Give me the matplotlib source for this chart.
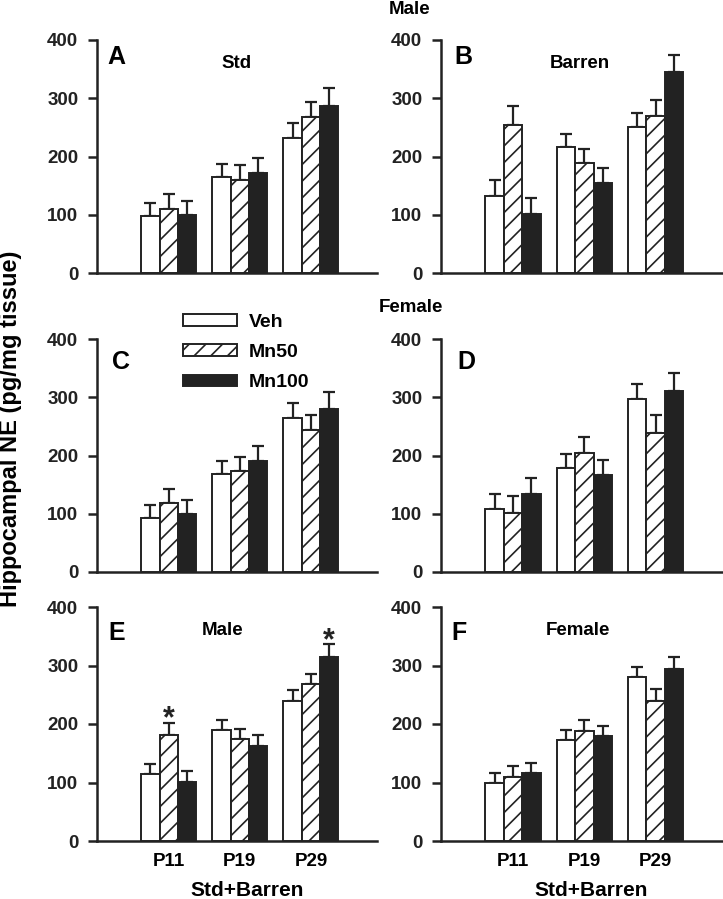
import matplotlib
matplotlib.use("Agg")
import matplotlib.pyplot as plt
import numpy as np

plt.rcParams['font.family'] = ['Liberation Sans', 'DejaVu Sans']
plt.rcParams['font.weight'] = 'bold'
plt.rcParams['hatch.linewidth'] = 1.2

ages = ["P11", "P19", "P29"]
groups = ["Veh", "Mn50", "Mn100"]

# means per treatment (rows: Veh, Mn50, Mn100), columns: P11, P19, P29
a_mean = [[97, 165, 232], [110, 160, 268], [100, 172, 287]]
a_err = [[24, 22, 25], [26, 25, 26], [23, 26, 30]]
b_mean = [[133, 217, 250], [254, 189, 270], [102, 155, 345]]
b_err = [[26, 21, 25], [33, 24, 27], [27, 25, 29]]
c_mean = [[93, 168, 265], [118, 174, 243], [99, 191, 279]]
c_err = [[22, 23, 25], [25, 24, 27], [25, 25, 30]]
d_mean = [[108, 179, 297], [101, 205, 239], [134, 166, 311]]
d_err = [[26, 23, 26], [30, 26, 30], [27, 27, 30]]
e_mean = [[115, 189, 239], [182, 174, 268], [101, 163, 314]]
e_err = [[17, 17, 19], [20, 17, 18], [18, 18, 22]]
f_mean = [[100, 173, 280], [109, 188, 239], [116, 179, 294]]
f_err = [[17, 16, 17], [20, 18, 21], [18, 17, 21]]

# significance marks: (panel, group index, age index)
stars = [("E", 1, 0), ("E", 2, 2)]

fig = plt.figure(figsize=(7.23, 8.99), dpi=100)

W, H = 723, 899
def px_axes(left, right, top, bottom):
    return fig.add_axes([left / W, 1 - bottom / H, (right - left) / W, (bottom - top) / H])

axA = px_axes(97, 377, 40, 273)
axB = px_axes(441, 722, 40, 273)
axC = px_axes(97, 377, 339, 572)
axD = px_axes(441, 722, 339, 572)
axE = px_axes(97, 377, 607, 841)
axF = px_axes(441, 722, 607, 841)

panels = [
    ("A", axA, a_mean, a_err, "Std", 0.50, (0.036, 0.927)),
    ("B", axB, b_mean, b_err, "Barren", 0.495, (0.046, 0.927)),
    ("C", axC, c_mean, c_err, None, None, (0.054, 0.90)),
    ("D", axD, d_mean, d_err, None, None, (0.057, 0.90)),
    ("E", axE, e_mean, e_err, "Male", 0.45, (0.04, 0.89)),
    ("F", axF, f_mean, f_err, "Female", 0.488, (0.036, 0.89)),
]

x = np.arange(1, len(ages) + 1)
w = 0.258
faces = ["white", "white", "#222222"]
hatches = [None, "//", None]

for name, ax, means, errs, title, tx, (lx, ly) in panels:
    for i in range(3):
        pos = x + (i - 1) * w
        ax.bar(pos, means[i], w, color=faces[i], edgecolor="#222222",
               linewidth=1.4, hatch=hatches[i], label=groups[i], zorder=3)
        ax.errorbar(pos, means[i], yerr=[np.zeros(3), errs[i]], fmt="none",
                    ecolor="#222222", elinewidth=1.6, capsize=4.5, capthick=1.6,
                    zorder=2)
    for p, gi, ai in stars:
        if p == name:
            top = means[gi][ai] + errs[gi][ai]
            ax.text(x[ai] + (gi - 1) * w, top - 20, "*", ha="center", va="bottom",
                    fontsize=22, fontweight="bold", color="#222222")
    ax.set_xlim(-0.01, 3.93)
    ax.set_ylim(0, 400)
    ax.set_yticks([0, 100, 200, 300, 400])
    ax.spines["top"].set_visible(False)
    ax.spines["right"].set_visible(False)
    for s in ["left", "bottom"]:
        ax.spines[s].set_linewidth(1.8)
        ax.spines[s].set_color("#222222")
    ax.tick_params(axis="y", direction="out", length=6.5, width=1.8, pad=7,
                   labelsize=13.5, colors="#222222")
    ax.tick_params(axis="x", length=0, pad=9, labelsize=13.5)
    if name in ("E", "F"):
        ax.set_xticks(x)
        ax.set_xticklabels(ages)
        ax.text(2.1, -0.213, "Std+Barren", transform=ax.get_xaxis_transform(),
                ha="center", va="center", fontsize=15, fontweight="bold")
    else:
        ax.set_xticks([])
    for lab in ax.get_yticklabels() + ax.get_xticklabels():
        lab.set_fontweight("bold")
    ax.text(lx, ly, name, transform=ax.transAxes, ha="left", va="center",
            fontsize=18, fontweight="bold")
    if title:
        ax.text(tx, 0.90, title, transform=ax.transAxes, ha="center", va="center",
                fontsize=13.5, fontweight="bold")
    if name == "C":
        ax.legend(loc="upper left", bbox_to_anchor=(183 / W, 1 - 314 / H),
                  bbox_transform=fig.transFigure, frameon=False, fontsize=14,
                  handlelength=2.8, handleheight=0.55, handletextpad=0.6,
                  labelspacing=0.68, borderpad=0, borderaxespad=0)

fig.text(410 / W, 1 - 9 / H, "Male", ha="center", va="center", fontsize=13.5,
         fontweight="bold")
fig.text(411 / W, 1 - 307 / H, "Female", ha="center", va="center", fontsize=13.5,
         fontweight="bold")
fig.text(11 / W, 1 - 429 / H, "Hippocampal NE (pg/mg tissue)", rotation=90,
         ha="center", va="center", fontsize=17, fontweight="bold")

fig.savefig("out.png", dpi=100)
